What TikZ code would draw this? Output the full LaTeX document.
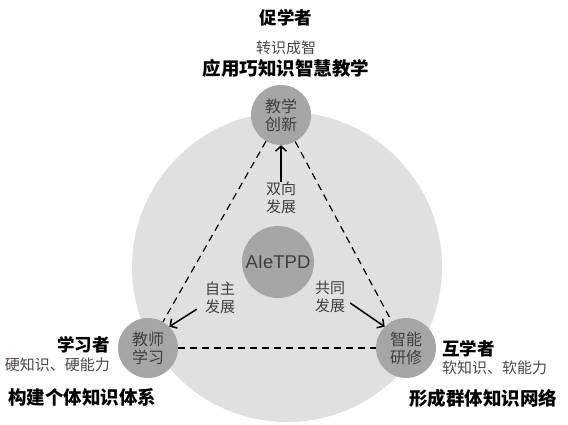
\documentclass[tikz,border=0pt]{standalone}
\usepackage{fontspec}
\newfontfamily\cjk{Noto Sans CJK SC}
\newfontfamily\latsans{Liberation Sans}
\usetikzlibrary{arrows.meta}
\definecolor{ringgray}{HTML}{E0E0E0}
\definecolor{hubgray}{HTML}{A6A6A6}
\definecolor{hubtext}{HTML}{3F3F3F}
\definecolor{notetext}{HTML}{4D4545}
\tikzset{
  hub/.style={circle, fill=hubgray, minimum size=#1, inner sep=0pt,
              align=center, text=hubtext, font=\cjk\fontsize{16}{18}\selectfont},
  hub/.default=60pt,
  role/.style={inner sep=0pt, font=\cjk\bfseries\fontsize{17.5}{20}\selectfont},
  note/.style={inner sep=0pt, text=notetext, font=\cjk\fontsize{15}{18}\selectfont},
  goal/.style={inner sep=0pt, font=\cjk\bfseries\fontsize{18.5}{21}\selectfont},
  lbl/.style={inner sep=0pt, align=center, text=hubtext,
              font=\cjk\fontsize{15}{18}\selectfont},
  arr/.style={-{Straight Barb[length=5pt,width=11pt]}, line width=1.5pt},
  link/.style={line width=1.2pt, dash pattern=on 7pt off 5pt},
}

\begin{document}
\begin{tikzpicture}[x=1pt, y=-1pt]
  \useasboundingbox (0,0) rectangle (568,424);

  % Ring — background disc
  \node[circle, fill=ringgray, minimum size=310pt] (ring) at (287,267) {};

  % Hubs — three corners and core
  \node[hub] (teach) at (281,115) {教学\\创新};
  \node[hub] (learn) at (148,348) {教师\\学习};
  \node[hub] (smart) at (406,348) {智能\\研修};
  \node[hub=72pt, font=\latsans\fontsize{18.5}{20}\selectfont] (core) at (278,262) {AIeTPD};

  % Dashed triangle
  \draw[link] (teach) -- (learn);
  \draw[link] (teach) -- (smart);
  \draw[link] (learn) -- (smart);

  % Development labels
  \node[lbl] (twoway) at (281,198) {双向\\发展};
  \node[lbl] (self) at (220,298) {自主\\发展};
  \node[lbl] (joint) at (330,297) {共同\\发展};

  % Arrows
  \draw[arr] (twoway.north) -- (teach.south);
  \draw[arr] ([shift={(-8,-5)}]self.south west) -- (learn.north east);
  \draw[arr] ([shift={(5,6)}]joint.east) -- (smart.north west);

  % Top — promoter
  \node[role] (promoter) at (286,18) {促学者};
  \node[note] (wisdom) at (286,48) {转识成智};
  \node[goal] (apply) at (286,68) {应用巧知识智慧教学};

  % Left — learner
  \node[role, anchor=east] (learner) at (110,345) {学习者};
  \node[note, anchor=east] (hard) at (110,365) {硬知识、硬能力};
  \node[goal, anchor=west] (build) at (8,397) {构建个体知识体系};

  % Right — peer learner
  \node[role, anchor=west] (peer) at (442,349) {互学者};
  \node[note, anchor=west] (soft) at (442,368) {软知识、软能力};
  \node[goal] (network) at (483,398) {形成群体知识网络};
\end{tikzpicture}
\end{document}
